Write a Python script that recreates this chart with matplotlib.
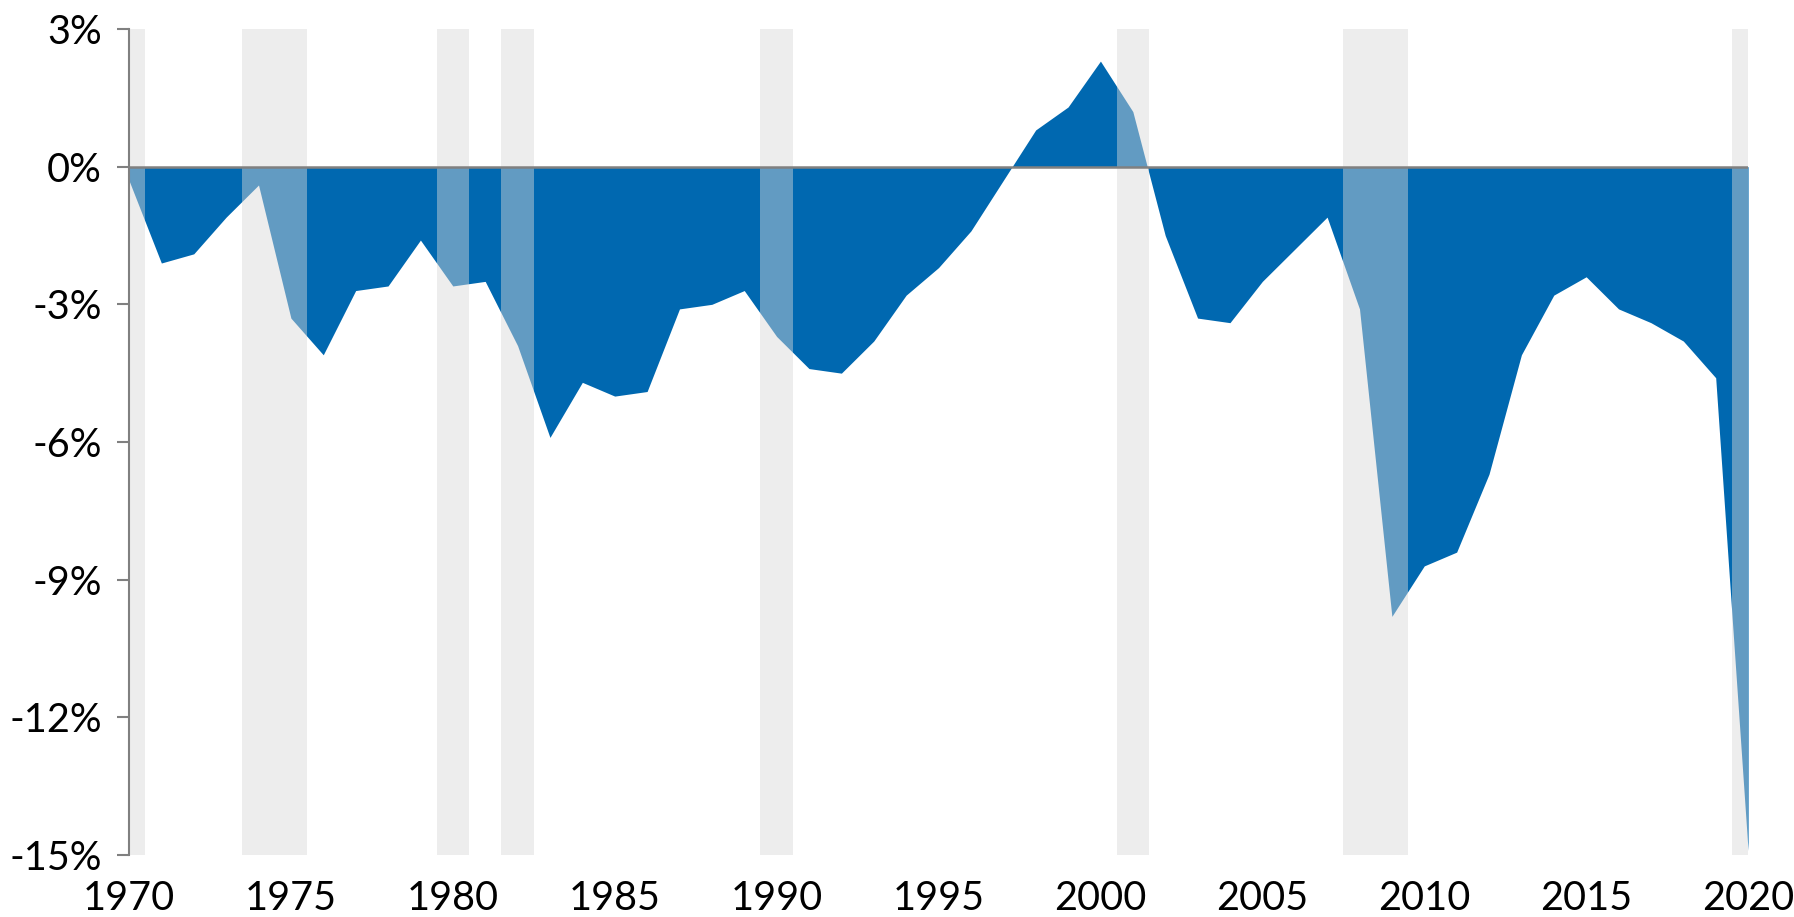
import matplotlib
matplotlib.use("Agg")
import matplotlib.pyplot as plt

# deficit / surplus as % of GDP, 1970-2020
years = list(range(1970, 2021))
balance = [-0.3, -2.1, -1.9, -1.1, -0.4, -3.3, -4.1, -2.7, -2.6, -1.6,
           -2.6, -2.5, -3.9, -5.9, -4.7, -5.0, -4.9, -3.1, -3.0, -2.7,
           -3.7, -4.4, -4.5, -3.8, -2.8, -2.2, -1.4, -0.3, 0.8, 1.3,
           2.3, 1.2, -1.5, -3.3, -3.4, -2.5, -1.8, -1.1, -3.1, -9.8,
           -8.7, -8.4, -6.7, -4.1, -2.8, -2.4, -3.1, -3.4, -3.8, -4.6,
           -14.9]

# recession years (shaded, each band covers the year +/- half a year)
recessions = [(1970, 1970), (1974, 1975), (1980, 1980), (1982, 1982),
              (1990, 1990), (2001, 2001), (2008, 2009), (2020, 2020)]

yticks = [3, 0, -3, -6, -9, -12, -15]
xticks = [1970, 1975, 1980, 1985, 1990, 1995, 2000, 2005, 2010, 2015, 2020]

plt.rcParams['font.family'] = ['Lato', 'DejaVu Sans']

fig = plt.figure(figsize=(17.94, 9.17), dpi=100)
ax = fig.add_axes([0.0719, 0.0676, 0.9025, 0.9008])

ax.fill_between(years, balance, 0, color='#0068B0', linewidth=0, zorder=1)

for start, end in recessions:
    ax.axvspan(start - 0.5, end + 0.5, color='#D8D8D8', alpha=0.46,
               linewidth=0, zorder=2)

ax.axhline(0, color='#808080', linewidth=1.8, zorder=3)

ax.set_xlim(1970, 2020)
ax.set_ylim(-15, 3)

ax.set_yticks(yticks)
ax.set_yticklabels([f"{v}%" for v in yticks])
ax.set_xticks(xticks)
ax.set_xticklabels([str(x) for x in xticks])

for side in ['top', 'right', 'bottom']:
    ax.spines[side].set_visible(False)
ax.spines['left'].set_color('#808080')
ax.spines['left'].set_linewidth(1.5)

ax.tick_params(axis='y', length=8.5, width=1.5, color='#808080',
               labelsize=28.5, pad=11)
ax.tick_params(axis='x', length=0, labelsize=28.5, pad=18)

fig.savefig('out.png', dpi=100)
